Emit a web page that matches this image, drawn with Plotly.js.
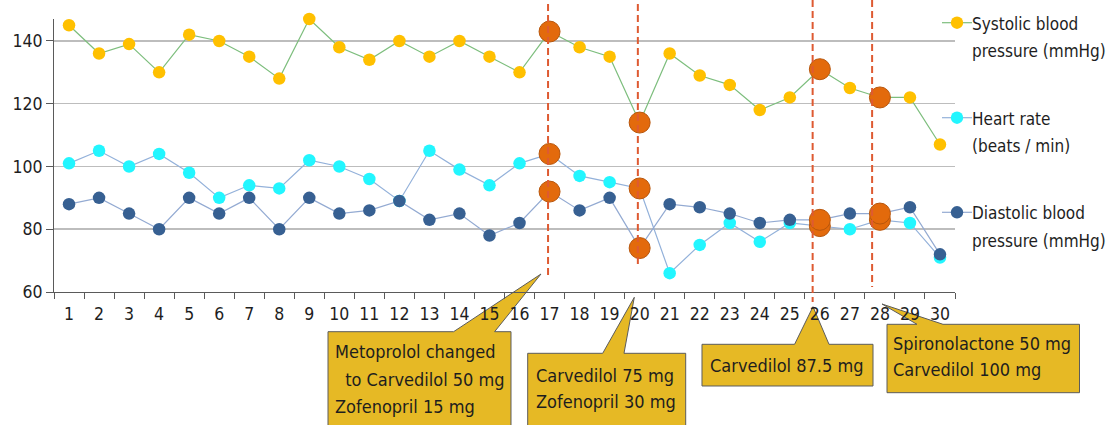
<!DOCTYPE html>
<html>
<head>
<meta charset="utf-8">
<script src="https://cdn.plot.ly/plotly-3.0.1.min.js"></script>
<style>
  html, body { margin: 0; padding: 0; background: #fff; }
  #chart { width: 1118px; height: 425px; }
</style>
</head>
<body>
<div id="chart"></div>
<script>
// ---------------- DATA ----------------
const days = [1,2,3,4,5,6,7,8,9,10,11,12,13,14,15,16,17,18,19,20,21,22,23,24,25,26,27,28,29,30];
const dayLabels = days.map(String);
const systolic  = [145,136,139,130,142,140,135,128,147,138,134,140,135,140,135,130,143,138,135,114,136,129,126,118,122,131,125,122,122,107];
const heartRate = [101,105,100,104,98,90,94,93,102,100,96,89,105,99,94,101,104,97,95,93,66,75,82,76,82,81,80,83,82,71];
const diastolic = [88,90,85,80,90,85,90,80,90,85,86,89,83,85,78,82,92,86,90,74,88,87,85,82,83,83,85,85,87,72];
const changeDays = [17,20,26,28];
const seriesNames = [
  ['Systolic blood', 'pressure (mmHg)'],
  ['Heart rate', '(beats / min)'],
  ['Diastolic blood', 'pressure (mmHg)']
];
const callouts = [
  ['Metoprolol changed', ' to Carvedilol 50 mg', 'Zofenopril 15 mg'],
  ['Carvedilol 75 mg', 'Zofenopril 30 mg'],
  ['Carvedilol 87.5 mg'],
  ['Spironolactone 50 mg', 'Carvedilol 100 mg']
];

// ---------------- STYLE / LAYOUT ----------------
const FONT = '"DejaVu Sans Condensed", "DejaVu Sans", sans-serif';
const TXT = '#1e1e1e';
const W = 1118, H = 425;
const M = {l: 54, r: 163, t: 19, b: 133};
const PW = W - M.l - M.r, PH = H - M.t - M.b;
const PX = px => (px - M.l) / PW;
const PY = py => (H - M.b - py) / PH;

const ORANGE = '#E36A0C';
const colors = {
  sys: {marker: '#FFC000', line: '#7DBE7D'},
  hr:  {marker: '#22F6FF', line: '#93B1DA'},
  dia: {marker: '#376092', line: '#93AAD2'}
};

function makeTrace(y, c, name) {
  const isChange = days.map(d => changeDays.includes(d));
  return {
    x: days, y: y, type: 'scatter', mode: 'lines+markers', name: name,
    cliponaxis: false,
    line: {color: c.line, width: 1.2},
    marker: {
      opacity: 1,
      color: isChange.map(b => b ? ORANGE : c.marker),
      size: isChange.map(b => b ? 21 : 12.5),
      line: {color: isChange.map(b => b ? '#B8560C' : c.marker), width: isChange.map(b => b ? 1 : 0)}
    },
    hoverinfo: 'x+y', showlegend: false
  };
}

const traces = [
  makeTrace(systolic, colors.sys, seriesNames[0].join(' ')),
  makeTrace(heartRate, colors.hr, seriesNames[1].join(' ')),
  makeTrace(diastolic, colors.dia, seriesNames[2].join(' '))
];

const shapes = [];
const annotations = [];

// dashed marker lines (slight offsets as in the original drawing)
const lineOffsets = [-0.05, -0.06, -0.24, -0.26];
const lineTop = [4, 4, 0, 0];
const lineBottom = [275, 265, 302, 287];
changeDays.forEach((d, i) => {
  shapes.push({
    type: 'line', xref: 'x', yref: 'paper',
    x0: d + lineOffsets[i], x1: d + lineOffsets[i],
    y0: PY(lineTop[i]), y1: PY(lineBottom[i]),
    line: {color: '#DE5A32', width: 2, dash: '7px,4px'}, layer: 'above'
  });
});

// callout boxes (pixel geometry)
const calloutGeom = [
  {x0: 328, x1: 511, y0: 331.7, y1: 440, b1: 453.6, b2: 494.6, tx: 541, ty: 274,
   lines: [{x: 336, y: 351.7}, {x: 341, y: 379.3}, {x: 336, y: 406.7}]},
  {x0: 527.7, x1: 685.7, y0: 353.3, y1: 440, b1: 602.7, b2: 624, tx: 634.3, ty: 297.3,
   lines: [{x: 536.7, y: 375}, {x: 536.7, y: 401}]},
  {x0: 702, x1: 873, y0: 344.3, y1: 386, b1: 794.6, b2: 829, tx: 813, ty: 306.7,
   lines: [{x: 710.5, y: 365}]},
  {x0: 887, x1: 1079.5, y0: 324.3, y1: 392.7, b1: 917, b2: 943, tx: 882, ty: 304,
   lines: [{x: 893.5, y: 343.3}, {x: 893.5, y: 370}]}
];
calloutGeom.forEach((g, i) => {
  const p = (x, y) => PX(x).toFixed(5) + ',' + PY(y).toFixed(5);
  const path = 'M' + p(g.x0, g.y0) + ' L' + p(g.b1, g.y0) + ' L' + p(g.tx, g.ty) +
    ' L' + p(g.b2, g.y0) + ' L' + p(g.x1, g.y0) + ' L' + p(g.x1, g.y1) +
    ' L' + p(g.x0, g.y1) + ' Z';
  shapes.push({type: 'path', xref: 'paper', yref: 'paper', path: path,
    fillcolor: '#E6B925', line: {color: '#5C5C5C', width: 1}, layer: 'below'});
  callouts[i].forEach((t, j) => {
    annotations.push({
      xref: 'paper', yref: 'paper', x: PX(g.lines[j].x - 3), y: PY(g.lines[j].y),
      xanchor: 'left', yanchor: 'middle', text: t, showarrow: false,
      font: {family: FONT, size: 18, color: TXT}
    });
  });
});

// manual legend
const legendItems = [
  {c: colors.sys, sy: 22.7, ty: [24, 50.7]},
  {c: colors.hr,  sy: 117.7, ty: [118.7, 145.7]},
  {c: colors.dia, sy: 212.3, ty: [213.3, 240.7]}
];
legendItems.forEach((it, i) => {
  shapes.push({type: 'line', xref: 'paper', yref: 'paper',
    x0: PX(942), x1: PX(972), y0: PY(it.sy), y1: PY(it.sy),
    line: {color: it.c.line, width: 1.2}});
  shapes.push({type: 'circle', xref: 'paper', yref: 'paper',
    xsizemode: 'pixel', ysizemode: 'pixel', xanchor: PX(957), yanchor: PY(it.sy),
    x0: -6.2, x1: 6.2, y0: -6.2, y1: 6.2,
    fillcolor: it.c.marker, line: {width: 0}});
  seriesNames[i].forEach((t, j) => {
    annotations.push({
      xref: 'paper', yref: 'paper', x: PX(972.7 - 3), y: PY(it.ty[j]),
      xanchor: 'left', yanchor: 'middle', text: t, showarrow: false,
      font: {family: FONT, size: 17, color: TXT}
    });
  });
});

const boundaries = days.map(d => d - 0.5).concat([days[days.length - 1] + 0.5]);

const layout = {
  width: W, height: H,
  margin: M,
  paper_bgcolor: '#ffffff', plot_bgcolor: '#ffffff',
  font: {family: FONT, size: 17, color: TXT},
  showlegend: false,
  xaxis: {
    type: 'linear', range: [0.5, 30.5],
    tickmode: 'array', tickvals: days, ticktext: dayLabels,
    ticks: '', showgrid: false, zeroline: false,
    showline: true, linecolor: '#5a5a5a', linewidth: 1,
    ticklabelstandoff: 6,
    tickfont: {family: FONT, size: 17.5, color: TXT},
    minor: {tickmode: 'array', tickvals: boundaries, ticks: 'outside', ticklen: 6,
            tickcolor: '#5a5a5a', tickwidth: 1, showgrid: false}
  },
  yaxis: {
    range: [60, 147], tickmode: 'linear', tick0: 60, dtick: 20,
    ticks: 'outside', ticklen: 7, tickcolor: '#5a5a5a', tickwidth: 1,
    showline: true, linecolor: '#5a5a5a', linewidth: 1,
    showgrid: true, gridcolor: '#BDBDBD', gridwidth: 1.5, zeroline: false,
    tickfont: {family: FONT, size: 17.5, color: TXT}
  },
  shapes: shapes,
  annotations: annotations
};

Plotly.newPlot('chart', traces, layout, {displayModeBar: false, staticPlot: true});
</script>
</body>
</html>
